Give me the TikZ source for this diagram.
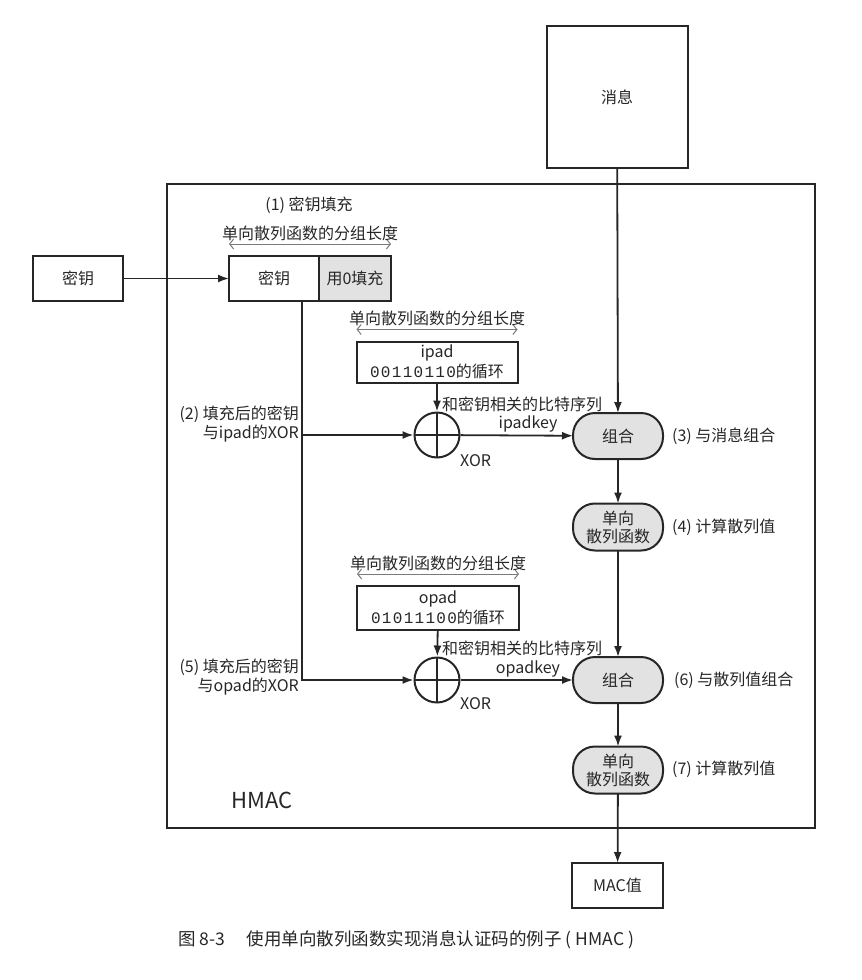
\documentclass[tikz,border=0pt]{standalone}
\usepackage{fontspec}
\setmainfont{Noto Sans CJK SC}
\newfontfamily\bitfont[LetterSpace=8]{Liberation Mono}
\usetikzlibrary{arrows.meta}
\definecolor{ink}{HTML}{262626}
\definecolor{combbg}{HTML}{E2E2E2}
\definecolor{spangray}{HTML}{7A7A7A}
\def\bw{91}
\def\bh{45}
\newcommand{\Lbl}{\fontsize{16}{19}\selectfont}
\newcommand{\Blen}[3]{%
  \draw[span] ([yshift=12pt]#2) -- ([yshift=12pt]#3)
     node[midway,above=2pt,txt] (#1) {单向散列函数的分组长度};
}
\tikzset{
  box/.style={draw=ink,line width=2pt,minimum width=\bw,minimum height=\bh,
    inner sep=1pt,outer sep=0pt,font=\Lbl,text=ink},
  comb/.style={box,fill=combbg,rounded corners=22pt,align=center,
    font=\fontsize{16}{18}\selectfont},
  xorop/.style={draw=ink,line width=2pt,circle,minimum size=45,inner sep=0pt,
    path picture={\draw[ink,line width=1.8pt]
      (path picture bounding box.north) -- (path picture bounding box.south)
      (path picture bounding box.west) -- (path picture bounding box.east);}},
  wire/.style={draw=ink,line width=1.8pt},
  flow/.style={wire,-{Latex[length=11pt,width=8pt]}},
  span/.style={spangray,line width=1pt,
    {Straight Barb[length=4pt,width=10pt]}-{Straight Barb[length=4pt,width=10pt]}},
  txt/.style={font=\Lbl,text=ink,inner sep=1pt},
}
\begin{document}
\begin{tikzpicture}[x=1pt,y=-1pt]
\useasboundingbox (0,0) rectangle (862,980);

% --- outer boxes ------------------------------------------------------
\node[box,minimum width=141,minimum height=142] (msg) at (617,97) {消息};
\node[draw=ink,line width=2pt,minimum width=648,minimum height=644] (hmac) at (491,506) {};
\node[txt,font=\fontsize{22}{24}\selectfont] (hmaclbl) at (262,800) {HMAC};
\node[box,minimum width=90] (key) at (78,278.5) {密钥};
\node[box,minimum width=91] (mac) at (617.5,885.5) {MAC值};

% --- (1) key padding --------------------------------------------------
\node[txt] (s1) at (309,205) {(1) 密钥填充};
\node[box,minimum width=90] (pkey) at (274,278.5) {密钥};
\node[box,minimum width=72,fill=combbg,anchor=west] (zpad) at (pkey.east) {用0填充};
\Blen{len1}{pkey.north west}{zpad.north east}
\draw[flow] (key) -- (pkey);
\coordinate (tap) at ([xshift=28pt]pkey.south);

% --- inner hash (ipad) ------------------------------------------------
\node[box,minimum width=161,minimum height=41,align=center,font=\fontsize{16}{20}\selectfont]
  (ipad) at (437,362) {ipad\\{\bitfont 00110110}的循环};
\Blen{len2}{ipad.north west}{ipad.north east}
\node[xorop] (xor1) at (437,435) {};
\node[txt,anchor=west] (bits1) at (441,404) {和密钥相关的比特序列};
\node[txt,anchor=west] (x1lbl) at (459,461) {XOR};
\node[txt,anchor=east,align=right] (s2) at (300,424) {(2) 填充后的密钥\\与ipad的XOR};
\node[comb,minimum width=90,minimum height=46] (comb1) at (618,436) {组合};
\node[txt,anchor=west] (s3) at (671,436) {(3) 与消息组合};
\node[comb,minimum width=90,minimum height=47] (hash1) at (618,527) {单向\\散列函数};
\node[txt,anchor=west] (s4) at (671,527) {(4) 计算散列值};

% --- outer hash (opad) ------------------------------------------------
\node[box,minimum width=162,minimum height=44,align=center,font=\fontsize{16}{20}\selectfont]
  (opad) at (438,608) {opad\\{\bitfont 01011100}的循环};
\Blen{len3}{opad.north west}{opad.north east}
\node[xorop] (xor2) at (437,680) {};
\node[txt,anchor=west] (bits2) at (441,648) {和密钥相关的比特序列};
\node[txt,anchor=west] (x2lbl) at (459,704) {XOR};
\node[txt,anchor=east,align=right] (s5) at (300,677) {(5) 填充后的密钥\\与opad的XOR};
\node[comb,minimum width=90,minimum height=46] (comb2) at (618,680) {组合};
\node[txt,anchor=west] (s6) at (673,680) {(6) 与散列值组合};
\node[comb,minimum width=90,minimum height=47] (hash2) at (618,770) {单向\\散列函数};
\node[txt,anchor=west] (s7) at (671,769) {(7) 计算散列值};

% --- connectors -------------------------------------------------------
\draw[flow] (tap) |- (xor2);
\draw[flow] (tap |- xor1) -- (xor1);
\draw[flow] (ipad) -- (xor1);
\draw[flow] (opad) -- (xor2);
\draw[flow] (xor1) -- node[txt,pos=0.6,above=1pt] (ik) {ipadkey} (comb1);
\draw[flow] (xor2) -- node[txt,pos=0.6,above=1pt] (ok) {opadkey} (comb2);
\draw[flow] (msg) -- (comb1);
\draw[flow] (comb1) -- (hash1);
\draw[flow] (hash1) -- (comb2);
\draw[flow] (comb2) -- (hash2);
\draw[flow] (hash2) -- (mac);

% --- caption ----------------------------------------------------------
\node[anchor=west,text=ink,font=\fontsize{17.5}{20}\selectfont] (cap) at (175,940)
  {图 8-3\quad\ 使用单向散列函数实现消息认证码的例子 ( HMAC )};
\end{tikzpicture}
\end{document}
